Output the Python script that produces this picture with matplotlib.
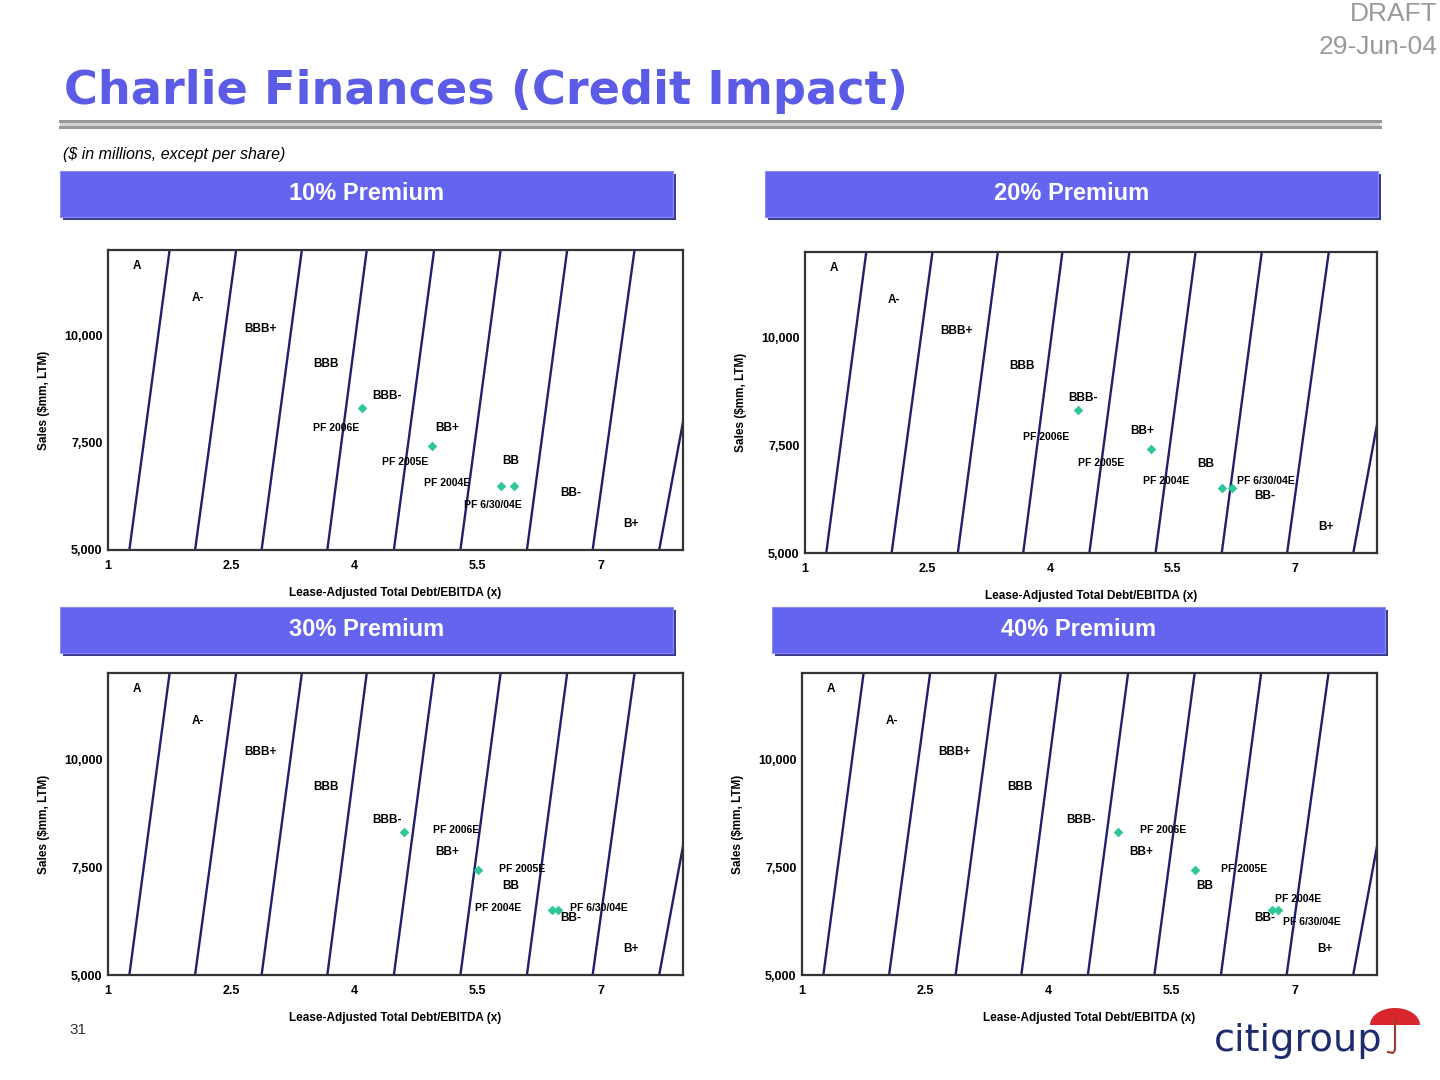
import numpy as np
import matplotlib
matplotlib.use("Agg")
import matplotlib.pyplot as plt
from matplotlib.patches import Rectangle, Polygon

# rating boundary lines (x at sales = 5,000 and x at sales = 12,000)
line_x_bottom = [1.26, 2.06, 2.87, 3.67, 4.48, 5.29, 6.10, 6.90, 7.71]
line_x_top = [1.75, 2.56, 3.36, 4.15, 4.97, 5.78, 6.59, 7.41, 8.39]
line_y = [5000, 12000]

rating_labels = ["A", "A-", "BBB+", "BBB", "BBB-", "BB+", "BB", "BB-", "B+"]
rating_x = [1.35, 2.09, 2.85, 3.65, 4.40, 5.13, 5.90, 6.63, 7.37]
rating_y = [11630, 10880, 10160, 9350, 8600, 7840, 7070, 6330, 5600]

premiums = ["10% Premium", "20% Premium", "30% Premium", "40% Premium"]
pf_labels = ["PF 2006E", "PF 2005E", "PF 2004E", "PF 6/30/04E"]
pf_sales = [8320, 7430, 6500, 6500]
leverage_10 = [4.09, 4.95, 5.78, 5.94]
leverage_20 = [4.34, 5.23, 6.10, 6.23]
leverage_30 = [4.60, 5.51, 6.40, 6.48]
leverage_40 = [4.85, 5.78, 6.72, 6.79]
leverages = [leverage_10, leverage_20, leverage_30, leverage_40]

x_ticks = [1, 2.5, 4, 5.5, 7]
x_tick_labels = ["1", "2.5", "4", "5.5", "7"]
y_ticks = [5000, 7500, 10000]
y_tick_labels = ["5,000", "7,500", "10,000"]

# layout (pixels in a 1440x1080 page)
W, H = 1440, 1080
axes_px = [(108, 250, 683, 550), (805, 252, 1377, 553),
           (108, 673, 683, 975), (802, 673, 1377, 975)]
bars_px = [(60, 171, 673, 217), (765, 171, 1378, 217),
           (60, 607, 673, 653), (772, 607, 1385, 653)]
# label offsets (pixels) relative to each point
label_off = [
    [(-26, -20), (-27, -16), (-54, 3), (-21, -19)],
    [(-32, -27), (-50, -14), (-56, 8), (34, 8)],
    [(52, 2), (44, 1), (-53, 2), (41, 2)],
    [(45, 2), (49, 1), (26, 11), (34, -12)],
]

LINE_C = "#1f1f6b"
BAR_C = "#6464ee"
PT_C = "#2fc79a"
FONT = "Liberation Sans"

fig = plt.figure(figsize=(14.4, 10.8), dpi=100)
fig.patch.set_facecolor("white")


def fx(px):
    return px / W


def fy(py):
    return 1 - py / H


# header
fig.text(fx(1438), fy(14), "DRAFT", ha="right", va="center", fontsize=19,
         color="#9a9a9a", family=FONT)
fig.text(fx(1438), fy(47), "29-Jun-04", ha="right", va="center", fontsize=19,
         color="#9a9a9a", family=FONT)
fig.text(fx(64), fy(92), "Charlie Finances (Credit Impact)", ha="left", va="center",
         fontsize=33.3, color="#5b5be6", fontweight="heavy", family="DejaVu Sans")
fig.patches.append(Rectangle((fx(60), fy(127)), fx(1380) - fx(60), fy(121) - fy(127),
                             transform=fig.transFigure, facecolor="#d4d4d4", edgecolor="none"))
for yy in (121, 126.5):
    fig.add_artist(plt.Line2D([fx(60), fx(1380)], [fy(yy), fy(yy)], color="#999999",
                              lw=2.2, transform=fig.transFigure))
fig.text(fx(63), fy(154), "($ in millions, except per share)", ha="left", va="center",
         fontsize=11.5, style="italic", family=FONT)
fig.text(fx(78), fy(1030), "31", ha="center", va="center", fontsize=11,
         color="#333333", family=FONT)

for i in range(4):
    x0, y0, x1, y1 = bars_px[i]
    fig.patches.append(Rectangle((fx(x0 + 3), fy(y1 + 3)), fx(x1 - x0), fy(y0) - fy(y1),
                                 transform=fig.transFigure, facecolor="#3a3a8c",
                                 edgecolor="none"))
    fig.patches.append(Rectangle((fx(x0), fy(y1)), fx(x1 - x0), fy(y0) - fy(y1),
                                 transform=fig.transFigure, facecolor=BAR_C,
                                 edgecolor="#8a8af5", lw=0.8))
    fig.text(fx((x0 + x1) / 2), fy((y0 + y1) / 2), premiums[i], ha="center", va="center",
             fontsize=17, color="white", fontweight="bold", family=FONT)

    l, t, r, b = axes_px[i]
    ax = fig.add_axes([fx(l), fy(b), fx(r - l), fy(t) - fy(b)])
    ax.set_xlim(1, 8)
    ax.set_ylim(5000, 12000)
    for xb, xt in zip(line_x_bottom, line_x_top):
        ax.plot([xb, xt], line_y, color=LINE_C, lw=1.7, solid_capstyle="butt")
    for lab, rx, ry in zip(rating_labels, rating_x, rating_y):
        ax.text(rx, ry, lab, ha="center", va="center", fontsize=8.5, fontweight="bold",
                family=FONT)
    lev = leverages[i]
    ax.scatter(lev, pf_sales, marker="D", s=24, color=PT_C, zorder=5, linewidths=0)
    for j in range(4):
        ax.annotate(pf_labels[j], (lev[j], pf_sales[j]), xytext=label_off[i][j],
                    textcoords="offset pixels", ha="center", va="center", fontsize=7.5,
                    fontweight="bold", family=FONT, zorder=6)
    ax.set_xticks(x_ticks)
    ax.set_xticklabels(x_tick_labels)
    ax.set_yticks(y_ticks)
    ax.set_yticklabels(y_tick_labels)
    ax.tick_params(length=0, labelsize=9)
    ax.tick_params(axis="x", pad=7)
    ax.tick_params(axis="y", pad=4)
    for tl in ax.get_xticklabels() + ax.get_yticklabels():
        tl.set_fontweight("bold")
        tl.set_family(FONT)
    ax.set_xlabel("Lease-Adjusted Total Debt/EBITDA (x)", fontsize=8.5, fontweight="bold",
                  family=FONT, labelpad=11)
    ax.set_ylabel("Sales ($mm, LTM)", fontsize=8.5, fontweight="bold", family=FONT,
                  labelpad=10)
    for s in ax.spines.values():
        s.set_linewidth(1.6)
        s.set_color("#333333")

# citigroup logo
lax = fig.add_axes([fx(1200), 0, fx(240), 90 / H])
lax.set_xlim(0, 240)
lax.set_ylim(0, 90)
lax.axis("off")
lax.text(14, 39, "citigroup", ha="left", va="center", fontsize=27.5, color="#1e2c6e",
         family="DejaVu Sans")
th = np.linspace(0, np.pi, 40)
canopy = np.column_stack([195 + 25 * np.cos(th), 55 + 17 * np.sin(th)])
lax.add_patch(Polygon(canopy, closed=True, facecolor="#d8262c", edgecolor="none"))
lax.plot([195, 195, 193, 188], [60, 30, 27, 28], color="#9a3a30", lw=1.5)

fig.savefig("out.png", dpi=100)
